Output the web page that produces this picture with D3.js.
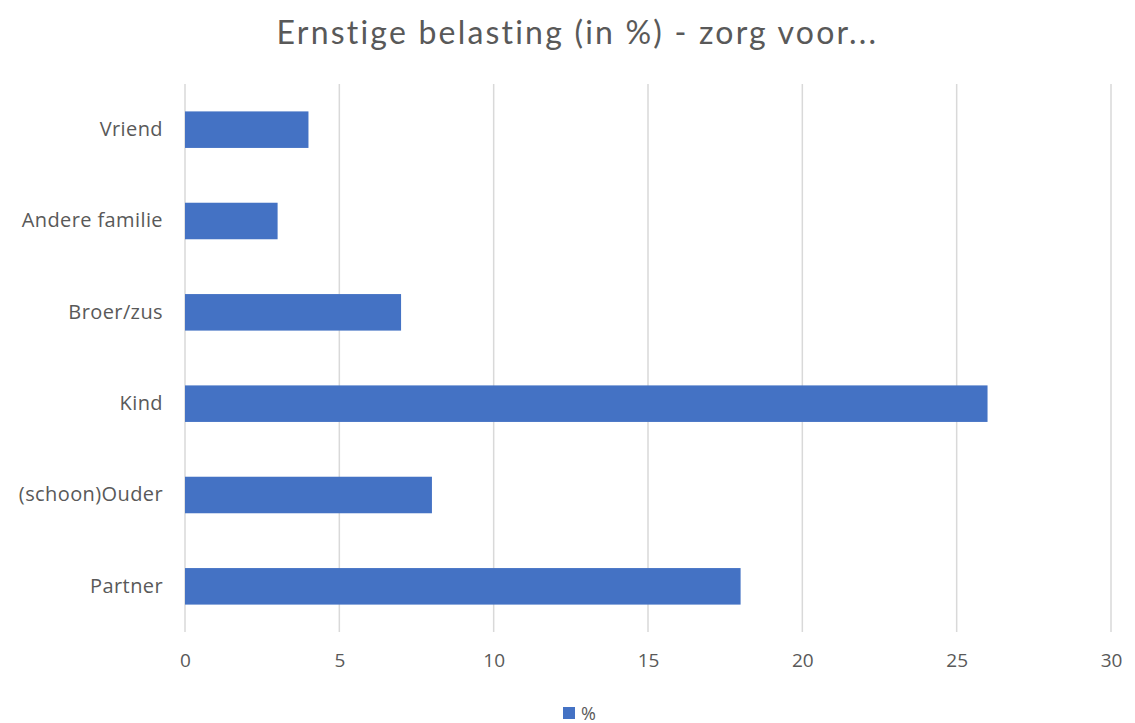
<!DOCTYPE html>
<html>
<head>
<meta charset="utf-8">
<script src="https://cdn.jsdelivr.net/npm/d3@7"></script>
<style>
  body { margin: 0; background: #fff; }
  text { font-family: "Open Sans", Lato, sans-serif; fill: #595959; }
</style>
</head>
<body>
<svg></svg>
<script>
var categories = ["Vriend", "Andere familie", "Broer/zus", "Kind", "(schoon)Ouder", "Partner"];
var values = [4, 3, 7, 26, 8, 18];
var xTicks = [0, 5, 10, 15, 20, 25, 30];
var seriesName = "%";

var W = 1135, H = 723;
var margin = {top: 84, right: 24, bottom: 91, left: 185},
    width = W - margin.left - margin.right,
    height = H - margin.top - margin.bottom;

var svg = d3.select("svg")
    .attr("width", W)
    .attr("height", H);

svg.append("text")
    .attr("x", W / 2 + 10)
    .attr("y", 44)
    .attr("text-anchor", "middle")
    .style("font-family", "Lato, sans-serif")
    .style("font-size", "32px")
    .style("letter-spacing", "2.2px")
    .text("Ernstige belasting (in %) - zorg voor...");

var g = svg.append("g")
    .attr("transform", "translate(" + margin.left + "," + margin.top + ")");

var xScale = d3.scaleLinear().domain([0, 30]).range([0, width]);
var yScale = d3.scaleBand().domain(categories).range([0, height]).paddingInner(0.6).paddingOuter(0.3);

// gridlines
g.selectAll(".grid")
    .data(xTicks)
  .enter().append("line")
    .attr("class", "grid")
    .attr("x1", function(d) { return xScale(d); })
    .attr("x2", function(d) { return xScale(d); })
    .attr("y1", 0)
    .attr("y2", height)
    .style("stroke", "#d9d9d9")
    .style("stroke-width", 1.5);

g.selectAll(".bar")
    .data(values)
  .enter().append("rect")
    .attr("class", "bar")
    .attr("x", xScale(0))
    .attr("y", function(d, i) { return yScale(categories[i]); })
    .attr("width", function(d) { return xScale(d) - xScale(0); })
    .attr("height", yScale.bandwidth())
    .style("fill", "#4472c4");

// x axis labels
var xAxis = g.append("g")
    .attr("transform", "translate(0," + height + ")")
    .call(d3.axisBottom(xScale).tickValues(xTicks).tickSize(0).tickPadding(22));
xAxis.select(".domain").remove();
xAxis.selectAll("text").style("font-size", "19px").style("fill", "#595959").style("font-family", "'Open Sans', sans-serif");

// y axis labels
var yAxis = g.append("g")
    .call(d3.axisLeft(yScale).tickSize(0).tickPadding(22));
yAxis.select(".domain").remove();
yAxis.selectAll("text").style("font-size", "20px").style("letter-spacing", "0.4px")
    .style("fill", "#595959").style("font-family", "'Open Sans', sans-serif");

// legend
var legend = svg.append("g").attr("transform", "translate(563,707)");
legend.append("rect").attr("width", 12).attr("height", 12).style("fill", "#4472c4");
legend.append("text").attr("x", 18).attr("y", 13).style("font-size", "18px").text(seriesName);
</script>
</body>
</html>
